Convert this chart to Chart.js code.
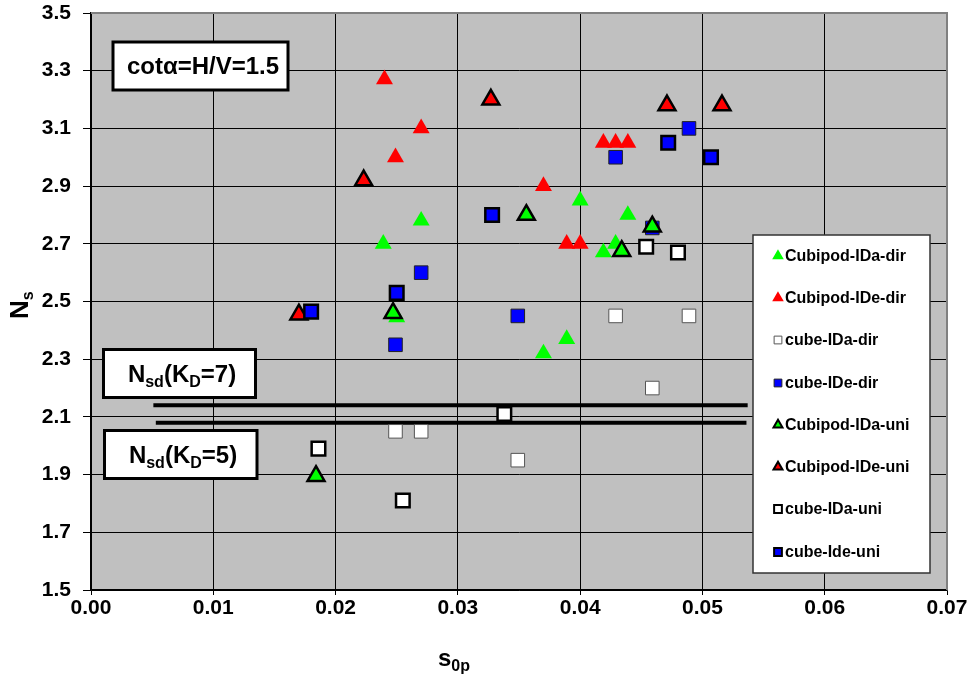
<!DOCTYPE html>
<html>
<head>
<meta charset="utf-8">
<script src="https://cdn.jsdelivr.net/npm/chart.js@4.4.0/dist/chart.umd.min.js"></script>
<style>
  body { margin: 0; background: #fff; }
  canvas { display: block; }
</style>
</head>
<body>
<canvas id="chart" width="974" height="683"></canvas>
<script>
// series names, as in the legend
const seriesNames = ['Cubipod-IDa-dir', 'Cubipod-IDe-dir', 'cube-IDa-dir', 'cube-IDe-dir',
  'Cubipod-IDa-uni', 'Cubipod-IDe-uni', 'cube-IDa-uni', 'cube-Ide-uni'];

// s0p / Ns values
const cubipodIDaDirS = [0.0239, 0.0270, 0.0250, 0.0370, 0.0389, 0.0400, 0.0439, 0.0419, 0.0429];
const cubipodIDaDirN = [2.70, 2.78, 2.445, 2.32, 2.37, 2.85, 2.80, 2.67, 2.70];

const cubipodIDeDirS = [0.0240, 0.0249, 0.0270, 0.0370, 0.0389, 0.0400, 0.0419, 0.0429, 0.0439];
const cubipodIDeDirN = [3.27, 3.00, 3.10, 2.90, 2.70, 2.70, 3.05, 3.05, 3.05];

const cubeIDaDirS = [0.0429, 0.0489, 0.0459, 0.0349, 0.0249, 0.0270];
const cubeIDaDirN = [2.45, 2.45, 2.20, 1.95, 2.05, 2.05];

const cubeIDeDirS = [0.0349, 0.0249, 0.0270, 0.0429, 0.0489, 0.0459];
const cubeIDeDirN = [2.45, 2.35, 2.60, 3.00, 3.10, 2.755];

const cubipodIDaUniS = [0.0247, 0.0184, 0.0356, 0.0434, 0.0459];
const cubipodIDaUniN = [2.46, 1.895, 2.80, 2.675, 2.76];

const cubipodIDeUniS = [0.0223, 0.0170, 0.0327, 0.0471, 0.0516];
const cubipodIDeUniN = [2.92, 2.455, 3.20, 3.18, 3.18];

const cubeIDaUniS = [0.0186, 0.0255, 0.0338, 0.0454, 0.0480];
const cubeIDaUniN = [1.99, 1.81, 2.11, 2.69, 2.67];

const cubeIdeUniS = [0.0180, 0.0250, 0.0328, 0.0472, 0.0507];
const cubeIdeUniN = [2.465, 2.53, 2.80, 3.05, 3.00];

// Nsd reference lines (KD=7, KD=5)
const nsdLevels = [2.14, 2.08];
const nsdStartS = [0.0051, 0.0053];
const nsdEndS = [0.0537, 0.0536];

const FONT = '"Liberation Sans", Arial, sans-serif';

function pts(xs, ys) {
  return xs.map((x, i) => ({ x: x, y: ys[i] }));
}

function markerSet(i, xs, ys, style, fill, border, bw) {
  const r = style === 'triangle' ? 9.8 : 9.6;
  return {
    label: seriesNames[i],
    data: pts(xs, ys),
    pointStyle: style,
    pointRadius: r,
    pointHoverRadius: r,
    backgroundColor: fill,
    borderColor: border,
    pointBorderWidth: bw,
    borderWidth: bw,
    order: -i,
    isMarker: true
  };
}

function nsdLine(k) {
  return {
    label: 'Nsd' + k,
    type: 'line',
    data: [{ x: nsdStartS[k], y: nsdLevels[k] }, { x: nsdEndS[k], y: nsdLevels[k] }],
    borderColor: '#000',
    borderWidth: 4,
    pointRadius: 0,
    showLine: true,
    fill: false,
    order: 10
  };
}

const datasets = [
  markerSet(0, cubipodIDaDirS, cubipodIDaDirN, 'triangle', '#00FF00', '#00FF00', 0),
  markerSet(1, cubipodIDeDirS, cubipodIDeDirN, 'triangle', '#FF0000', '#FF0000', 0),
  markerSet(2, cubeIDaDirS, cubeIDaDirN, 'rect', '#FFFFFF', '#555555', 1),
  markerSet(3, cubeIDeDirS, cubeIDeDirN, 'rect', '#0000FF', '#222222', 1),
  markerSet(4, cubipodIDaUniS, cubipodIDaUniN, 'triangle', '#00FF00', '#000000', 2.5),
  markerSet(5, cubipodIDeUniS, cubipodIDeUniN, 'triangle', '#FF0000', '#000000', 2.5),
  markerSet(6, cubeIDaUniS, cubeIDaUniN, 'rect', '#FFFFFF', '#000000', 2.5),
  markerSet(7, cubeIdeUniS, cubeIdeUniN, 'rect', '#0000FF', '#000000', 2.5),
  nsdLine(0),
  nsdLine(1)
];

// text with subscripts: parts = [text, size, baseline shift]
function drawRich(ctx, parts, x, y, align) {
  let total = 0;
  parts.forEach(p => {
    ctx.font = 'bold ' + p[1] + 'px ' + FONT;
    total += ctx.measureText(p[0]).width;
  });
  let cx = align === 'center' ? x - total / 2 : x;
  ctx.textAlign = 'left';
  ctx.textBaseline = 'alphabetic';
  parts.forEach(p => {
    ctx.font = 'bold ' + p[1] + 'px ' + FONT;
    ctx.fillText(p[0], cx, y + p[2]);
    cx += ctx.measureText(p[0]).width;
  });
}

function box(ctx, x1, y1, x2, y2, lw) {
  ctx.fillStyle = '#fff';
  ctx.fillRect(x1, y1, x2 - x1, y2 - y1);
  ctx.strokeStyle = '#000';
  ctx.lineWidth = lw;
  ctx.strokeRect(x1, y1, x2 - x1, y2 - y1);
}

const plotBg = {
  id: 'plotBg',
  beforeDraw(chart) {
    const a = chart.chartArea, ctx = chart.ctx;
    ctx.save();
    ctx.fillStyle = '#C0C0C0';
    ctx.fillRect(a.left, a.top, a.right - a.left, a.bottom - a.top);
    ctx.restore();
  },
  afterDraw(chart) {
    const a = chart.chartArea, ctx = chart.ctx;
    ctx.save();
    ctx.strokeStyle = '#808080';
    ctx.lineWidth = 2;
    ctx.beginPath();
    ctx.moveTo(a.left, a.top);
    ctx.lineTo(a.right, a.top);
    ctx.lineTo(a.right, a.bottom);
    ctx.stroke();

    ctx.fillStyle = '#000';
    // axis titles
    ctx.save();
    ctx.translate(28, 319);
    ctx.rotate(-Math.PI / 2);
    drawRich(ctx, [['N', 26, 0], ['s', 16, 5]], 0, 0, 'left');
    ctx.restore();
    ctx.fillStyle = '#000';
    drawRich(ctx, [['s', 24, 0], ['0p', 16, 5]], 454, 666, 'center');

    // annotation boxes
    box(ctx, 113, 42, 288, 90, 3);
    ctx.fillStyle = '#000';
    drawRich(ctx, [['cotα=H/V=1.5', 24, 0]], 203, 74, 'center');

    box(ctx, 103.5, 349.5, 255.5, 397.5, 3);
    ctx.fillStyle = '#000';
    drawRich(ctx, [['N', 24, 0], ['sd', 16, 5], ['(K', 24, 0], ['D', 16, 5], ['=7)', 24, 0]], 182, 382, 'center');

    box(ctx, 104.5, 430.5, 257, 478.5, 3);
    ctx.fillStyle = '#000';
    drawRich(ctx, [['N', 24, 0], ['sd', 16, 5], ['(K', 24, 0], ['D', 16, 5], ['=5)', 24, 0]], 183, 463, 'center');

    // legend
    ctx.fillStyle = '#fff';
    ctx.fillRect(753, 235, 177, 338);
    ctx.strokeStyle = '#333';
    ctx.lineWidth = 1.5;
    ctx.strokeRect(753, 235, 177, 338);
    const rowY = [256, 298, 340, 383, 425, 467, 509, 552];
    chart.data.datasets.filter(d => d.isMarker).forEach((d, i) => {
      ctx.fillStyle = d.backgroundColor;
      ctx.strokeStyle = d.borderColor;
      ctx.lineWidth = d.borderWidth > 1 ? 2 : d.borderWidth;
      Chart.helpers.drawPoint(ctx, {
        pointStyle: d.pointStyle, radius: d.pointStyle === 'rect' ? 5.5 : 5.2,
        rotation: 0, borderWidth: ctx.lineWidth
      }, 778, rowY[i]);
      ctx.fillStyle = '#000';
      ctx.font = 'bold 16px ' + FONT;
      ctx.textAlign = 'left';
      ctx.textBaseline = 'middle';
      ctx.fillText(d.label, 785, rowY[i] + 1);
    });
    ctx.restore();
  }
};

new Chart(document.getElementById('chart'), {
  type: 'scatter',
  data: { datasets: datasets },
  plugins: [plotBg],
  options: {
    responsive: false,
    animation: false,
    devicePixelRatio: 1,
    layout: { padding: { left: 0, right: 27, top: 13, bottom: 0 } },
    plugins: {
      legend: { display: false },
      tooltip: { enabled: false }
    },
    scales: {
      x: {
        type: 'linear',
        min: 0,
        max: 0.07,
        ticks: {
          stepSize: 0.01,
          color: '#000',
          padding: 1,
          font: { family: FONT, size: 21, weight: 'bold' },
          callback: v => v.toFixed(2)
        },
        grid: {
          color: c => Math.abs(c.tick.value - 0.07) < 1e-9 ? 'rgba(0,0,0,0)' : '#000',
          lineWidth: 1,
          tickColor: '#000',
          tickLength: 5
        },
        border: { color: '#000', width: 1.5 },
        afterFit: s => { s.height = 93; s.paddingLeft = 0; s.paddingRight = 0; }
      },
      y: {
        type: 'linear',
        min: 1.5,
        max: 3.5,
        ticks: {
          stepSize: 0.2,
          color: '#000',
          padding: 12,
          font: { family: FONT, size: 21, weight: 'bold' },
          callback: v => v.toFixed(1)
        },
        grid: {
          color: c => Math.abs(c.tick.value - 3.5) < 1e-9 ? 'rgba(0,0,0,0)' : '#000',
          lineWidth: 1,
          tickColor: '#000',
          tickLength: 8
        },
        border: { color: '#000', width: 1.5 },
        afterFit: s => { s.width = 91; s.paddingTop = 0; s.paddingBottom = 0; }
      }
    }
  }
});
</script>
</body>
</html>
